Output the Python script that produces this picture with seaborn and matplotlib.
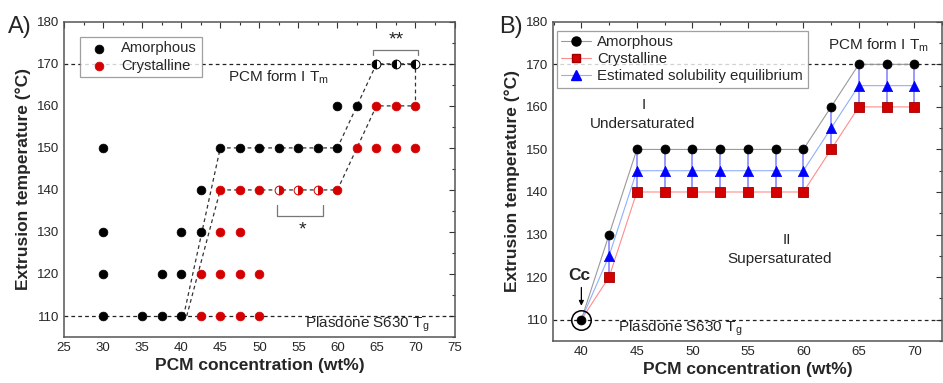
import numpy as np
import pandas as pd
import seaborn as sns
import matplotlib.pyplot as plt
from matplotlib.lines import Line2D
from matplotlib.ticker import MultipleLocator

# -----------------------------
# DATA (panel A)
# -----------------------------
amorph_x = [30, 30, 30, 30, 35, 37.5, 37.5, 40, 40, 40, 42.5, 42.5,
            45, 47.5, 50, 52.5, 55, 57.5, 60, 60, 62.5]
amorph_t = [110, 120, 130, 150, 110, 110, 120, 110, 120, 130, 130, 140,
            150, 150, 150, 150, 150, 150, 150, 160, 160]
cryst_x = [42.5, 42.5, 45, 45, 45, 45, 47.5, 47.5, 47.5, 47.5, 50, 50, 50,
           60, 62.5, 65, 65, 67.5, 67.5, 70, 70]
cryst_t = [110, 120, 110, 120, 130, 140, 110, 120, 130, 140, 110, 120, 140,
           140, 150, 150, 160, 150, 160, 150, 160]
half_amorph_x = [65, 67.5, 70]
half_amorph_t = [170, 170, 170]
half_cryst_x = [52.5, 55, 57.5]
half_cryst_t = [140, 140, 140]

# boundary guides
amorph_edge_x = [40.3, 45, 60, 65, 70]
amorph_edge_t = [110, 150, 150, 170, 170]
cryst_edge_x = [40.7, 45, 60, 65, 70, 70]
cryst_edge_t = [110, 140, 140, 160, 160, 170]

# -----------------------------
# DATA (panel B)
# -----------------------------
conc = [40, 42.5, 45, 47.5, 50, 52.5, 55, 57.5, 60, 62.5, 65, 67.5, 70]
t_amorph = [110, 130, 150, 150, 150, 150, 150, 150, 150, 160, 170, 170, 170]
t_cryst = [110, 120, 140, 140, 140, 140, 140, 140, 140, 150, 160, 160, 160]
t_equil = [110, 125, 145, 145, 145, 145, 145, 145, 145, 155, 165, 165, 165]

T_MELT = 170
T_GLASS = 110

sns.set_style("white")
plt.rcParams["font.family"] = ["Liberation Sans", "DejaVu Sans"]
plt.rcParams["mathtext.default"] = "regular"

RED = "#d40000"
fig = plt.figure(figsize=(9.43, 3.83), dpi=100)
axA = fig.add_axes([0.068, 0.120, 0.414, 0.823])
axB = fig.add_axes([0.5865, 0.110, 0.4125, 0.833])


def style_axis(ax, xlim, xticks):
    ax.set_xlim(*xlim)
    ax.set_ylim(105, 180)
    ax.set_xticks(xticks)
    ax.set_yticks(range(110, 181, 10))
    ax.xaxis.set_minor_locator(MultipleLocator(2.5))
    ax.yaxis.set_minor_locator(MultipleLocator(5))
    ax.tick_params(which="both", direction="in", top=True, right=True,
                   labelsize=9.5, color="#333333", width=0.8)
    ax.tick_params(which="major", length=4)
    ax.tick_params(which="minor", length=2.5)
    for s in ax.spines.values():
        s.set_color("#555555")
        s.set_linewidth(1.1)
    ax.set_xlabel("PCM concentration (wt%)", fontsize=12.5,
                  fontweight="bold", labelpad=3)
    ax.set_ylabel("Extrusion temperature (\u00b0C)", fontsize=12.5,
                  fontweight="bold", labelpad=4)


# -----------------------------
# PANEL A
# -----------------------------
style_axis(axA, (25, 75), range(25, 76, 5))
axA.axhline(T_MELT, color="#222222", ls=(0, (3, 2.5)), lw=0.9, zorder=1)
axA.axhline(T_GLASS, color="#222222", ls=(0, (3, 2.5)), lw=0.9, zorder=1)
axA.plot(amorph_edge_x, amorph_edge_t, color="#333333", ls=(0, (3, 2.5)),
         lw=0.9, zorder=1)
axA.plot(cryst_edge_x, cryst_edge_t, color="#333333", ls=(0, (3, 2.5)),
         lw=0.9, zorder=1)

dfa = pd.DataFrame({"x": amorph_x, "t": amorph_t})
dfc = pd.DataFrame({"x": cryst_x, "t": cryst_t})
sns.scatterplot(data=dfa, x="x", y="t", ax=axA, color="black", s=40,
                edgecolor="black", linewidth=0.5, zorder=3,
                label="Amorphous")
sns.scatterplot(data=dfc, x="x", y="t", ax=axA, color=RED, s=40,
                edgecolor=RED, linewidth=0.5, zorder=3, label="Crystalline")
axA.plot(half_amorph_x, half_amorph_t, ls="none", marker="o", ms=6.3,
         fillstyle="left", mfc="black", mfcalt="white", mec="black",
         mew=0.7, zorder=3)
axA.plot(half_cryst_x, half_cryst_t, ls="none", marker="o", ms=6.3,
         fillstyle="right", mfc=RED, mfcalt="white", mec=RED,
         mew=0.7, zorder=3)

# significance brackets
axA.plot([52.3, 52.3, 58.2, 58.2], [136.5, 133.9, 133.9, 136.5],
         color="#777777", lw=0.9)
axA.text(55.5, 130.5, "*", ha="center", va="center", fontsize=14)
axA.plot([64.6, 64.6, 70.3, 70.3], [172.1, 173.4, 173.4, 172.1],
         color="#777777", lw=0.9)
axA.text(67.6, 175.8, "**", ha="center", va="center", fontsize=14)

axA.text(46, 166.8, "PCM form I T$_m$", fontsize=11, va="center")
axA.text(55.8, 108.0, "Plasdone S630 T$_g$", fontsize=11, va="center")

legA = axA.legend(loc="upper left", bbox_to_anchor=(0.041, 0.952),
                  borderaxespad=0, fontsize=10.6, frameon=True,
                  fancybox=False, handletextpad=0.5, borderpad=0.3,
                  labelspacing=0.25, markerscale=1.0)
legA.get_frame().set_edgecolor("#888888")
legA.get_frame().set_linewidth(0.9)
legA.set_zorder(5)

fig.text(0.008, 0.915, "A)", fontsize=17)

# -----------------------------
# PANEL B
# -----------------------------
style_axis(axB, (37.45, 72.5), range(40, 71, 5))
axB.axhline(T_MELT, color="#222222", ls=(0, (3, 2.5)), lw=0.9, zorder=1)
axB.axhline(T_GLASS, color="#222222", ls=(0, (3, 2.5)), lw=0.9, zorder=1)

dfb = pd.DataFrame({"x": conc, "amorph": t_amorph, "cryst": t_cryst,
                    "equil": t_equil})
sns.lineplot(data=dfb, x="x", y="amorph", ax=axB, color="#9a9a9a",
             lw=0.8, zorder=2)
sns.lineplot(data=dfb, x="x", y="cryst", ax=axB, color="#ff8c8c",
             lw=0.8, zorder=2)
sns.lineplot(data=dfb, x="x", y="equil", ax=axB, color="#8fb0ff",
             lw=0.8, zorder=2)

dfe = dfb.iloc[1:]
axB.errorbar(dfe["x"], dfe["equil"], yerr=5, fmt="none",
             ecolor="#7f7fff", elinewidth=1.1, capsize=2.5, capthick=0.8,
             zorder=2)
sns.scatterplot(data=dfe, x="x", y="cryst", ax=axB, marker="s", s=42,
                color=RED, edgecolor="#a00000", linewidth=0.6, zorder=4)
sns.scatterplot(data=dfe, x="x", y="equil", ax=axB, marker="^", s=55,
                color="#0000ff", edgecolor="#0000ff", linewidth=0.5,
                zorder=4)
sns.scatterplot(data=dfb, x="x", y="amorph", ax=axB, marker="o", s=42,
                color="black", edgecolor="black", linewidth=0.5, zorder=5)

# critical composition
axB.plot([40], [110], marker="o", ms=14, mfc="none", mec="black",
         mew=1.1, zorder=5)
axB.annotate("", xy=(40, 112.6), xytext=(40, 118.2),
             arrowprops=dict(arrowstyle="-|>", color="black", lw=0.9,
                             mutation_scale=7))
axB.text(39.85, 120.3, "Cc", fontsize=12.5, fontweight="bold",
         ha="center", va="center")

axB.text(62.2, 174.5, "PCM form I T$_m$", fontsize=11, va="center")
axB.text(43.3, 108.0, "Plasdone S630 T$_g$", fontsize=11, va="center")
axB.text(45.6, 160.5, "I", fontsize=11, ha="center", va="center")
axB.text(45.5, 156.0, "Undersaturated", fontsize=11, ha="center",
         va="center")
axB.text(58.5, 128.7, "II", fontsize=11, ha="center", va="center")
axB.text(57.9, 124.2, "Supersaturated", fontsize=11, ha="center",
         va="center")

handles = [
    Line2D([], [], color="#9a9a9a", lw=0.8, marker="o", ms=6.5,
           mfc="black", mec="black"),
    Line2D([], [], color="#ff8c8c", lw=0.8, marker="s", ms=6,
           mfc=RED, mec="#a00000"),
    Line2D([], [], color="#8fb0ff", lw=0.8, marker="^", ms=7,
           mfc="#0000ff", mec="#0000ff"),
]
legB = axB.legend(handles, ["Amorphous", "Crystalline",
                            "Estimated solubility equilibrium"],
                  loc="upper left", bbox_to_anchor=(0.01, 0.972),
                  borderaxespad=0, fontsize=10.8, frameon=True,
                  fancybox=False, handlelength=2.0, handletextpad=0.4,
                  borderpad=0.3, labelspacing=0.2)
legB.get_frame().set_edgecolor("#888888")
legB.get_frame().set_linewidth(0.9)
legB.set_zorder(6)

fig.text(0.529, 0.915, "B)", fontsize=17)

plt.savefig("out.png", dpi=100)
